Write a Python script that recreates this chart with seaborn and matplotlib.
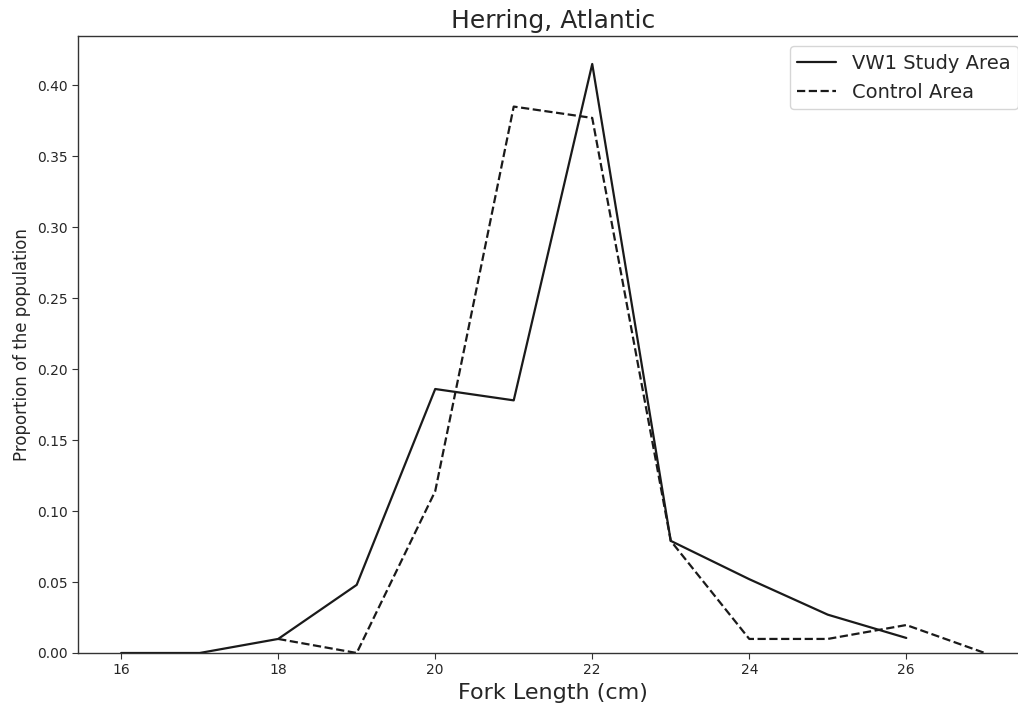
import matplotlib
matplotlib.use("Agg")
import matplotlib.pyplot as plt
import seaborn as sns
import pandas as pd

study_x = [16, 17, 18, 19, 20, 21, 22, 23, 24, 25, 26]
study_y = [0.0, 0.0, 0.0099, 0.048, 0.186, 0.178, 0.415, 0.079, 0.052, 0.027, 0.0106]
control_x = [18, 19, 20, 21, 22, 23, 24, 25, 26, 27]
control_y = [0.0099, 0.0, 0.114, 0.385, 0.377, 0.079, 0.0099, 0.0099, 0.0197, 0.0]

sns.set_style("ticks")
plt.rcParams['font.family'] = ['DejaVu Sans']

fig = plt.figure(figsize=(10.18, 7.08), dpi=100)
# axes intentionally extends past the right edge (as in the reference, which is cropped)
ax = fig.add_axes([0.0766, 0.0777, 0.9332, 0.871])

df_s = pd.DataFrame({"x": study_x, "y": study_y})
df_c = pd.DataFrame({"x": control_x, "y": control_y})
sns.lineplot(data=df_s, x="x", y="y", ax=ax, color="#1a1a1a", linewidth=1.6, label="VW1 Study Area")
sns.lineplot(data=df_c, x="x", y="y", ax=ax, color="#1a1a1a", linewidth=1.6, linestyle="--", label="Control Area")

ax.set_xlim(15.45, 27.55)
ax.set_ylim(0, 0.4345)
yt = [0.0, 0.05, 0.10, 0.15, 0.20, 0.25, 0.30, 0.35, 0.40]
ax.set_yticks(yt)
ax.set_yticklabels([f"{v:.2f}" for v in yt])
ax.set_xticks([16, 18, 20, 22, 24, 26])
ax.tick_params(labelsize=10, length=4, color="#333333")
for s in ax.spines.values():
    s.set_color("#333333")
    s.set_linewidth(1.0)

ax.set_title("Herring, Atlantic", fontsize=18)
ax.set_xlabel("Fork Length (cm)", fontsize=16)
ax.set_ylabel("Proportion of the population", fontsize=12)
ax.legend(loc="upper right", fontsize=14, frameon=True)

fig.savefig("out.png", dpi=100)
